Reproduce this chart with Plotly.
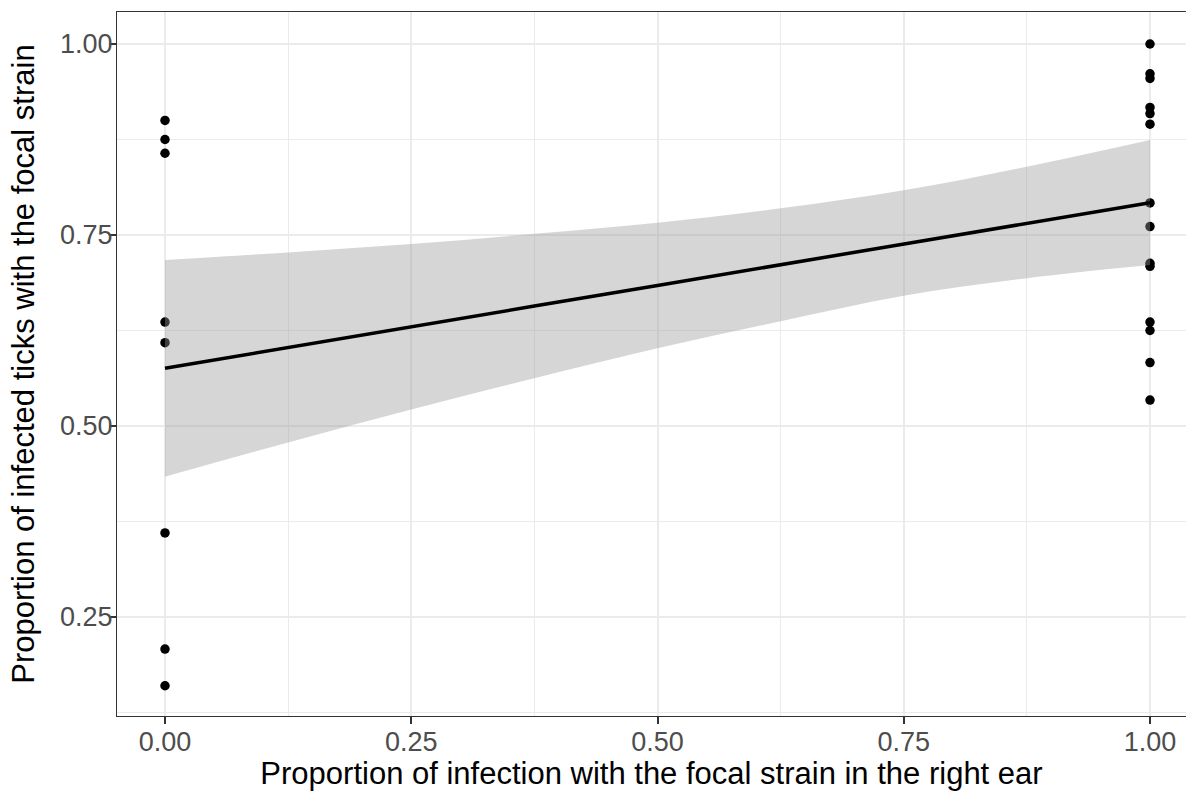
import plotly.graph_objects as go

# ---- data ----
x_left = [0, 0, 0, 0, 0, 0, 0, 0]
y_left = [0.900, 0.875, 0.857, 0.636, 0.609, 0.360, 0.208, 0.160]

x_right = [1] * 14
y_right = [1.000, 0.961, 0.955, 0.917, 0.909, 0.895, 0.792, 0.761,
           0.713, 0.709, 0.636, 0.625, 0.583, 0.534]

fit_x = [0, 0.125, 0.25, 0.375, 0.5, 0.625, 0.75, 0.875, 1.0]
fit_y = [0.5755, 0.6030, 0.6300, 0.6570, 0.6840, 0.7110, 0.7385, 0.7655, 0.7923]
fit_upper = [0.7173, 0.7272, 0.7382, 0.7515, 0.7661, 0.7849, 0.8085, 0.8394, 0.8743]
fit_lower = [0.4337, 0.4785, 0.5215, 0.5625, 0.6017, 0.6371, 0.6705, 0.6935, 0.7107]

x_ticks = [0, 0.25, 0.5, 0.75, 1.0]
y_ticks = [0.25, 0.5, 0.75, 1.0]
x_title = "Proportion of infection with the focal strain in the right ear"
y_title = "Proportion of infected ticks with the focal strain"

FONT = "Liberation Sans, Arial, sans-serif"

fig = go.Figure()

# points first (ribbon drawn over them, as in ggplot)
fig.add_trace(go.Scatter(
    x=x_left + x_right, y=y_left + y_right, mode="markers",
    marker=dict(color="black", size=9.5, line=dict(width=0)),
    showlegend=False, hoverinfo="x+y"))

# confidence ribbon (lower edge, then upper edge filled down to it)
fig.add_trace(go.Scatter(
    x=fit_x, y=fit_lower, mode="lines",
    line=dict(width=0, shape="spline", smoothing=1.0),
    showlegend=False, hoverinfo="skip"))
fig.add_trace(go.Scatter(
    x=fit_x, y=fit_upper, mode="lines",
    line=dict(width=0, shape="spline", smoothing=1.0),
    fill="tonexty", fillcolor="rgba(153,153,153,0.4)",
    showlegend=False, hoverinfo="skip"))

# fitted line
fig.add_trace(go.Scatter(
    x=fit_x, y=fit_y, mode="lines",
    line=dict(color="black", width=3.5), showlegend=False))

axis_common = dict(
    showgrid=True, gridcolor="#EBEBEB", gridwidth=2.2,
    zeroline=False, ticks="outside", ticklen=7, tickwidth=1.5,
    tickcolor="#333333", linecolor="#333333", linewidth=1.3, showline=True,
    tickfont=dict(family=FONT, size=27, color="#4D4D4D"),
    tickformat=".2f",
    minor=dict(dtick=0.125, showgrid=True, gridcolor="#EBEBEB", gridwidth=1.1, ticks=""),
)

fig.update_layout(
    width=1186, height=791,
    margin=dict(l=117, r=0, t=12, b=75),
    plot_bgcolor="white", paper_bgcolor="white",
    font=dict(family=FONT),
    xaxis=dict(
        range=[-0.04873, 1.03655], tickmode="array", tickvals=x_ticks,
        mirror=True, ticklabelstandoff=-6,
        title=dict(text=x_title, font=dict(family=FONT, size=31, color="black"), standoff=10),
        **axis_common),
    yaxis=dict(
        range=[0.12042, 1.04188], tickmode="array", tickvals=y_ticks,
        mirror=False, ticklabelstandoff=-9,
        title=dict(text=y_title, font=dict(family=FONT, size=31, color="black"), standoff=16),
        **axis_common),
)

fig.write_html("out.html")
